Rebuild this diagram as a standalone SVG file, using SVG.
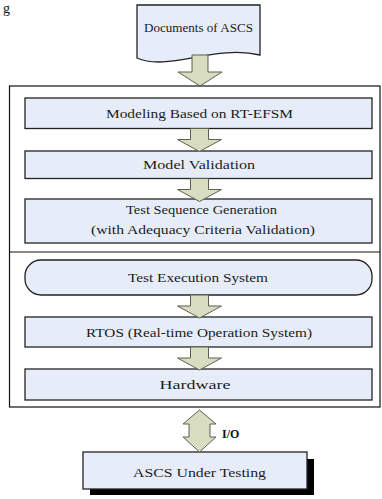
<svg xmlns="http://www.w3.org/2000/svg" width="382" height="499" viewBox="0 0 382 499">
  <style>
    .box { fill: #e7edf8; stroke: #222; stroke-width: 1.3; }
    .frame { fill: #fff; stroke: #111; stroke-width: 1.2; }
    .arrow { fill: #d8dcc0; stroke: #5e604e; stroke-width: 1; stroke-linejoin: miter; }
    .lbl { font-family: "Liberation Serif", "Times New Roman", serif; font-size: 12.5px; fill: #1c1c1c; text-anchor: middle; }
    .io { font-family: "Liberation Serif", "Times New Roman", serif; font-size: 12px; font-weight: bold; fill: #111; }
  </style>
  <defs>
    <!-- block arrow pointing down, drawn at origin (centre-top) -->
    <path id="down" d="M-9,0 H9 V11 H22 L0,23 L-22,11 H-9 Z"/>
  </defs>
  <rect width="382" height="499" fill="#fff"/>

  <!-- caption glyph at the top-left corner -->
  <text x="3" y="13" font-family="Liberation Serif, serif" font-size="14" fill="#111">g</text>

  <!-- outer frame and divider -->
  <g id="frame">
    <rect class="frame" x="9.5" y="86" width="370.5" height="321"/>
    <line x1="9.5" y1="252" x2="380" y2="252" stroke="#111" stroke-width="1.2"/>
  </g>

  <g id="documents">
    <path class="box" d="M137,5 H260 V55 C215,44 168,72 137,58 Z"/>
    <text class="lbl" x="198.5" y="32" textLength="109" lengthAdjust="spacingAndGlyphs">Documents of ASCS</text>
  </g>

  <g id="modeling">
    <rect class="box" x="25" y="98" width="347" height="30.5"/>
    <text class="lbl" x="199.5" y="118" textLength="187" lengthAdjust="spacingAndGlyphs">Modeling Based on RT-EFSM</text>
  </g>

  <g id="validation">
    <rect class="box" x="25" y="151" width="347" height="27.5"/>
    <text class="lbl" x="199" y="169" textLength="112" lengthAdjust="spacingAndGlyphs">Model  Validation</text>
  </g>

  <g id="generation">
    <rect class="box" x="25" y="199" width="347" height="44"/>
    <text class="lbl" x="201.5" y="214" textLength="151" lengthAdjust="spacingAndGlyphs">Test Sequence Generation</text>
    <text class="lbl" x="203" y="234" textLength="224" lengthAdjust="spacingAndGlyphs">(with Adequacy Criteria Validation)</text>
  </g>

  <g id="execution">
    <rect class="box" x="25" y="260" width="347" height="35" rx="16" ry="16"/>
    <text class="lbl" x="198" y="281.5" textLength="140" lengthAdjust="spacingAndGlyphs">Test Execution System</text>
  </g>

  <g id="rtos">
    <rect class="box" x="25" y="317" width="347" height="30"/>
    <text class="lbl" x="199" y="336.5" textLength="226" lengthAdjust="spacingAndGlyphs">RTOS (Real-time Operation System)</text>
  </g>

  <g id="hardware">
    <rect class="box" x="25" y="369" width="347" height="31"/>
    <text class="lbl" x="195" y="389" textLength="71" lengthAdjust="spacingAndGlyphs">Hardware</text>
  </g>

  <g id="sut">
    <rect x="90" y="459" width="224" height="36" fill="#000"/>
    <rect class="box" x="83" y="452" width="224" height="37"/>
    <text class="lbl" x="199.5" y="476.5" textLength="133" lengthAdjust="spacingAndGlyphs">ASCS  Under Testing</text>
  </g>

  <g id="connectors">
    <path class="arrow" d="M192,55 H208 V72 H222 L200,86 L178,72 H192 Z"/>
    <use class="arrow" href="#down" transform="translate(199.5,128.5)"/>
    <use class="arrow" href="#down" transform="translate(199.5,178.5)"/>
    <use class="arrow" href="#down" transform="translate(199.5,295)"/>
    <use class="arrow" href="#down" transform="translate(199.5,347)"/>
    <!-- bidirectional I/O link -->
    <path class="arrow" d="M199.5,410 L216,424 H210 V437 H216 L199.5,452 L183,437 H189 V424 H183 Z"/>
    <text class="io" x="222" y="438">I/O</text>
  </g>
</svg>
